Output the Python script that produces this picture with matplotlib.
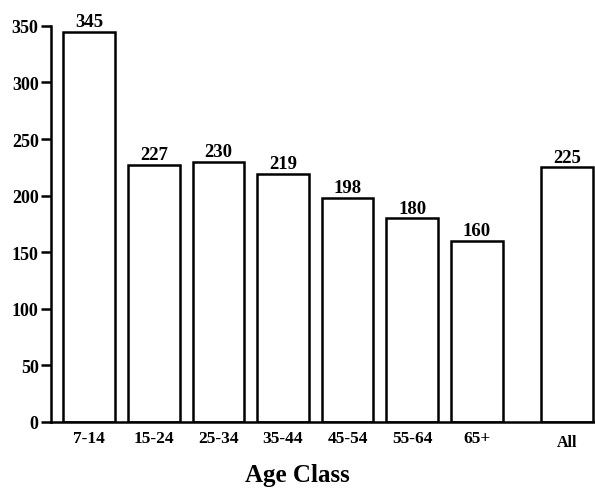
import matplotlib.pyplot as plt

# mean values per age class
classes = ['7-14', '15-24', '25-34', '35-44', '45-54', '55-64', '65+', 'All']
values = [345, 227, 230, 219, 198, 180, 160, 225]
positions = [0, 1, 2, 3, 4, 5, 6, 7.4]

plt.rcParams['font.family'] = 'Liberation Serif'
plt.rcParams['font.weight'] = 'bold'

fig = plt.figure(figsize=(5.95, 4.89), dpi=100)
ax = fig.add_axes([0.086, 0.135, 0.914, 0.81])

bars = ax.bar(positions, values, width=0.8, facecolor='white',
              edgecolor='black', linewidth=1.8)

for x, v in zip(positions, values):
    ax.text(x, v + 1.5, str(v), ha='center', va='bottom', fontsize=13.5,
            fontweight='bold')

ax.set_xlim(-0.59, 7.83)
ax.set_ylim(0, 350)
ax.set_yticks(range(0, 351, 50))
ax.set_xticks(positions)
ax.set_xticklabels(classes)
ax.tick_params(axis='x', length=0, pad=6, labelsize=12.5)
ax.tick_params(axis='y', length=7, width=1.8, direction='out', pad=2,
               labelsize=13)
for lbl in ax.get_xticklabels():
    lbl.set_fontweight('bold')
    if lbl.get_text() == 'All':
        lbl.set_fontsize(11.5)
        lbl.set_y(-0.01)
for lbl in ax.get_yticklabels():
    lbl.set_fontweight('bold')

ax.spines['top'].set_visible(False)
ax.spines['right'].set_visible(False)
ax.spines['left'].set_linewidth(1.8)
ax.spines['bottom'].set_linewidth(1.8)

fig.text(0.5, 0.004, 'Age Class', ha='center', va='bottom', fontsize=18,
         fontweight='bold')

fig.savefig('out.png', dpi=100)
